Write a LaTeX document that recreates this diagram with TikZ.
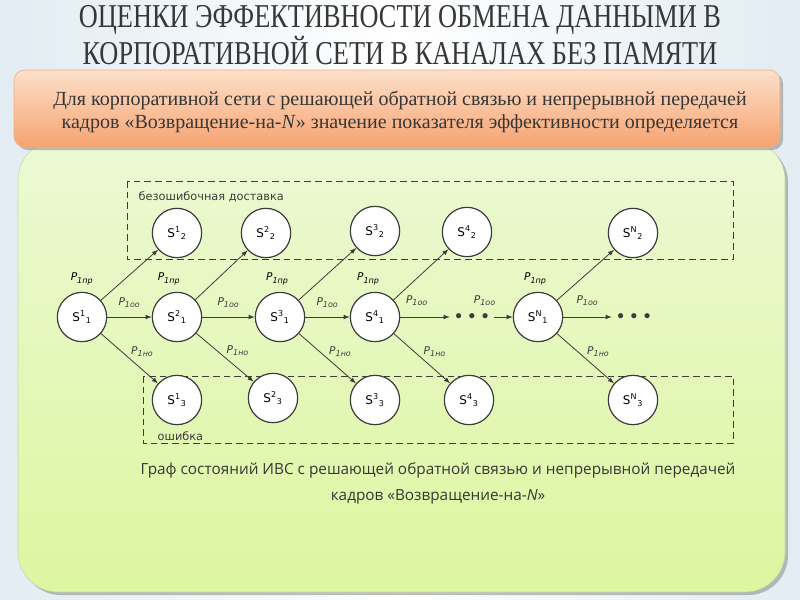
\documentclass[tikz,border=0pt]{standalone}
\usepackage{fontspec}
\setmainfont{Liberation Serif}
\setsansfont{DejaVu Sans}
\newfontfamily\titlefont[FakeStretch=0.79]{Liberation Serif}
\newfontfamily\leadfont{Liberation Serif}
\newfontfamily\capfont{Open Sans}
\usetikzlibrary{positioning, arrows, shadows}

\definecolor{panelTop}{RGB}{236,249,212}
\definecolor{panelBot}{RGB}{221,246,160}
\definecolor{panelLine}{RGB}{200,215,170}
\definecolor{boxTop}{RGB}{253,224,202}
\definecolor{boxBot}{RGB}{246,163,112}
\definecolor{boxLine}{RGB}{240,175,130}
\definecolor{titleGray}{RGB}{55,55,55}
\definecolor{edgeGray}{RGB}{60,60,60}
\definecolor{pageBlue}{RGB}{226,236,242}

\tikzset{
	state/.style={draw=edgeGray,circle,line width=0.9pt,fill=white,minimum size=37pt,inner sep=0pt,font=\sffamily\fontsize{9}{10}\selectfont},
	link/.style={edgeGray,line width=0.6pt,-latex},
	prob/.style={font=\sffamily\itshape\fontsize{8}{9}\selectfont,inner sep=1pt},
	zone/.style={draw=edgeGray,line width=0.6pt,dash pattern=on 5pt off 3pt},
	zonetext/.style={font=\sffamily\fontsize{8.5}{9}\selectfont,text=edgeGray,anchor=west},
	dotrow/.style={minimum width=33pt,inner sep=0pt,text=edgeGray}
}

\newcommand{\stname}[2]{S\textsuperscript{#1}\textsubscript{#2}}
\newcommand{\prname}[1]{P\textsubscript{1#1}}

\begin{document}
\begin{tikzpicture}[x=0.75pt,y=-0.75pt]
		\useasboundingbox (0,0) rectangle (800,600);
		\shade[left color=pageBlue,right color=pageBlue,middle color=white] (0,0) rectangle (800,600);

		\node[font=\titlefont\fontsize{25}{25.5}\selectfont,text=titleGray,align=center] (title) at (400,35)
			{ОЦЕНКИ ЭФФЕКТИВНОСТИ ОБМЕНА ДАННЫМИ В\\КОРПОРАТИВНОЙ СЕТИ В КАНАЛАХ БЕЗ ПАМЯТИ};

		\shade[top color=panelTop,bottom color=panelBot,draw=panelLine,rounded corners=30pt,drop shadow] (18,140) rectangle (785,592);
		\shade[top color=boxTop,bottom color=boxBot,draw=boxLine,rounded corners=8pt,drop shadow] (14,70) rectangle (780,147);
		\node[font=\leadfont\fontsize{15}{17.25}\selectfont,text=titleGray,align=center] (lead) at (400,112)
			{Для корпоративной сети с решающей обратной связью и непрерывной передачей\\кадров «Возвращение-на-\textit{N}» значение показателя эффективности определяется};

		\draw[zone] (127,181) rectangle (733,259);
		\node[zonetext] (zoneok) at (134,197) {безошибочная доставка};
		\draw[zone] (143,376) rectangle (733,443);
		\node[zonetext] (zonefail) at (153,436) {ошибка};

		\node[state] (s11) at (82,317) {\stname{1}{1}};
		\node[state] (s21) at (177,317) {\stname{2}{1}};
		\node[state] (s31) at (280,317) {\stname{3}{1}};
		\node[state] (s41) at (375,317) {\stname{4}{1}};
		\node[state] (sN1) at (538,317) {\stname{N}{1}};
		\node[state] (s12) at (177,233) {\stname{1}{2}};
		\node[state] (s22) at (266,233) {\stname{2}{2}};
		\node[state] (s32) at (375,231) {\stname{3}{2}};
		\node[state] (s42) at (467,232) {\stname{4}{2}};
		\node[state] (sN2) at (633,233) {\stname{N}{2}};
		\node[state] (s13) at (177,400) {\stname{1}{3}};
		\node[state] (s23) at (273,398) {\stname{2}{3}};
		\node[state] (s33) at (375,400) {\stname{3}{3}};
		\node[state] (s43) at (469,400) {\stname{4}{3}};
		\node[state] (sN3) at (633,400) {\stname{N}{3}};

		\node[dotrow] (dots1) at (472,317) {$\bullet\;\bullet\;\bullet$};
		\node[dotrow] (dots2) at (634,317) {$\bullet\;\bullet\;\bullet$};

		\draw[link] (s11) -- node[prob,above=6pt] {\prname{оо}} (s21);
		\draw[link] (s21) -- node[prob,above=6pt] {\prname{оо}} (s31);
		\draw[link] (s31) -- node[prob,above=6pt] {\prname{оо}} (s41);
		\draw[link] (s41) -- node[prob,above=7pt,xshift=-6pt] {\prname{оо}} (dots1);
		\draw[link] (dots1) -- node[prob,above=7pt,xshift=-14pt] {\prname{оо}} (sN1);
		\draw[link] (sN1) -- node[prob,above=7pt] {\prname{оо}} (dots2);

		\draw[link] (s11) -- (s12);
		\draw[link] (s21) -- (s22);
		\draw[link] (s31) -- (s32);
		\draw[link] (s41) -- (s42);
		\draw[link] (sN1) -- (sN2);
		\node[prob,above=4pt of s11] {\prname{пр}};
		\node[prob,above=4pt of s21,xshift=-6pt] {\prname{пр}};
		\node[prob,above=4pt of s31,xshift=-2pt] {\prname{пр}};
		\node[prob,above=4pt of s41,xshift=-5pt] {\prname{пр}};
		\node[prob,above=4pt of sN1,xshift=-2pt] {\prname{пр}};

		\draw[link] (s11) -- node[prob,above right] {\prname{но}} (s13);
		\draw[link] (s21) -- node[prob,above right] {\prname{но}} (s23);
		\draw[link] (s31) -- node[prob,above right] {\prname{но}} (s33);
		\draw[link] (s41) -- node[prob,above right] {\prname{но}} (s43);
		\draw[link] (sN1) -- node[prob,above right] {\prname{но}} (sN3);

		\node[font=\capfont\fontsize{11.5}{19.5}\selectfont,text=titleGray,align=center] (caption) at (438,483)
			{Граф состояний ИВС с решающей обратной связью и непрерывной передачей\\кадров «Возвращение-на-\textit{N}»};
	\end{tikzpicture}
\end{document}
